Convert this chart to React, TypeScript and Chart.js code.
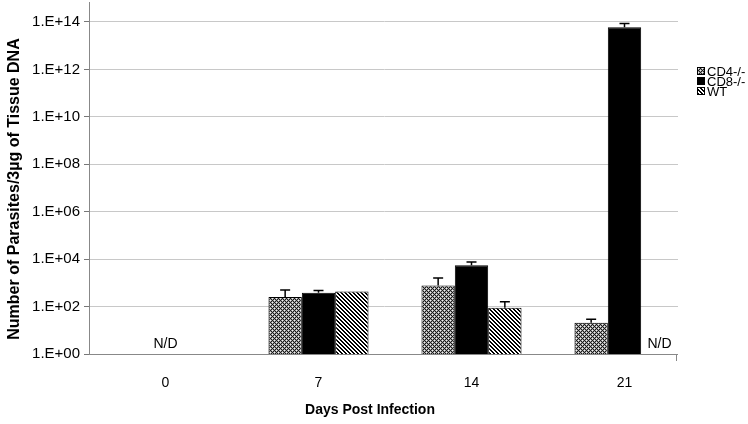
import React, { useEffect, useRef } from "react";
import { Chart, registerables } from "chart.js";

Chart.register(...registerables);

const categories = ["0", "7", "14", "21"];
const seriesNames = ["CD4-/-", "CD8-/-", "WT"];
const cd4Values = [null, 250, 770, 21];
const cd8Values = [null, 380, 5500, 6e13];
const wtValues = [null, 430, 90, null];
const cd4Upper = [null, 500, 1600, 29];
const cd8Upper = [null, 475, 7500, 8.5e13];
const wtUpper = [null, null, 158, null];
const yTickExponents = [0, 2, 4, 6, 8, 10, 12, 14];
const ndLabels = [
  { category: 0, shift: 0, text: "N/D" },
  { category: 3, shift: 35, text: "N/D" },
];

function makePattern(kind: string): CanvasPattern | string {
  const c = document.createElement("canvas");
  c.width = 4;
  c.height = 4;
  const g = c.getContext("2d");
  if (!g) return "#888";
  if (kind === "cross") {
    g.fillStyle = "#a0a0a0";
    g.fillRect(0, 0, 4, 4);
    g.fillStyle = "#1a1a1a";
    for (let x = 0; x < 4; x++)
      for (let y = 0; y < 4; y++) {
        if ((x + y) % 4 === 0 || (x - y + 4) % 4 === 0) g.fillRect(x, y, 1, 1);
      }
    g.fillStyle = "#f0f0f0";
    g.fillRect(2, 0, 1, 1);
    g.fillRect(0, 2, 1, 1);
  } else {
    g.fillStyle = "#fff";
    g.fillRect(0, 0, 4, 4);
    g.fillStyle = "#000";
    for (let x = 0; x < 4; x++)
      for (let y = 0; y < 4; y++) {
        if ((x - y + 8) % 4 < 2) g.fillRect(x, y, 1, 1);
      }
  }
  return g.createPattern(c, "repeat") || "#888";
}

const PLOT_END = 678;

export default function App() {
  const ref = useRef<HTMLCanvasElement | null>(null);
  useEffect(() => {
    if (!ref.current) return;
    const fills = [makePattern("cross"), "#000", makePattern("stripe")];
    const uppers = [cd4Upper, cd8Upper, wtUpper];
    const font = "'Liberation Sans', Arial, sans-serif";

    const extras = {
      id: "extras",
      beforeDraw(chart: any) {
        const ctx = chart.ctx;
        ctx.save();
        ctx.beginPath();
        ctx.rect(0, 0, PLOT_END, chart.height);
        ctx.clip();
      },
      afterDatasetsDraw(chart: any) {
        const ctx = chart.ctx;
        const y = chart.scales.y;
        const x = chart.scales.x;
        ctx.save();
        ctx.strokeStyle = "#000";
        ctx.lineWidth = 1.5;
        chart.data.datasets.forEach((ds: any, di: number) => {
          const meta = chart.getDatasetMeta(di);
          meta.data.forEach((el: any, i: number) => {
            const up = uppers[di][i];
            const v = ds.data[i];
            if (up == null || v == null) return;
            const yTop = y.getPixelForValue(v);
            const yUp = y.getPixelForValue(up);
            ctx.beginPath();
            ctx.moveTo(el.x, yTop);
            ctx.lineTo(el.x, yUp);
            ctx.moveTo(el.x - 5, yUp);
            ctx.lineTo(el.x + 5, yUp);
            ctx.stroke();
          });
        });
        ctx.fillStyle = "#000";
        ctx.font = "14px " + font;
        ctx.textAlign = "center";
        ctx.textBaseline = "middle";
        ndLabels.forEach((n) => {
          const cx = x.getPixelForValue(n.category) + n.shift;
          ctx.fillText(n.text, cx, y.bottom - 10);
        });
        ctx.strokeStyle = "#888";
        ctx.lineWidth = 1;
        ctx.beginPath();
        ctx.moveTo(PLOT_END - 1.5, y.bottom);
        ctx.lineTo(PLOT_END - 1.5, y.bottom + 7);
        ctx.stroke();
        ctx.restore();
      },
      afterDraw(chart: any) {
        const ctx = chart.ctx;
        ctx.restore();
        ctx.save();
        ctx.fillStyle = "#000";
        ctx.textBaseline = "middle";
        ctx.textAlign = "center";
        ctx.font = "bold 14px " + font;
        ctx.fillText("Days Post Infection", 370, 410);
        ctx.save();
        ctx.translate(15, 189);
        ctx.rotate(-Math.PI / 2);
        ctx.font = "bold 16px " + font;
        ctx.fillText("Number of Parasites/3\u00b5g of Tissue DNA", 0, 0);
        ctx.restore();
        ctx.font = "13px " + font;
        ctx.textAlign = "left";
        seriesNames.forEach((name, i) => {
          const ly = 71 + i * 10;
          ctx.fillStyle = fills[i] as any;
          ctx.fillRect(697, ly - 4, 8, 8);
          ctx.strokeStyle = "#000";
          ctx.lineWidth = 1;
          ctx.strokeRect(697.5, ly - 3.5, 7, 7);
          ctx.fillStyle = "#000";
          ctx.fillText(name, 707, ly + 1);
        });
        ctx.restore();
      },
    };

    const chart = new Chart(ref.current, {
      type: "bar",
      data: {
        labels: categories,
        datasets: [
          { label: seriesNames[0], data: cd4Values, backgroundColor: fills[0], borderColor: "#000", borderWidth: 1 },
          { label: seriesNames[1], data: cd8Values, backgroundColor: fills[1], borderColor: "#000", borderWidth: 1 },
          { label: seriesNames[2], data: wtValues, backgroundColor: fills[2], borderColor: "#000", borderWidth: 1 },
        ],
      } as any,
      options: {
        animation: false,
        responsive: false,
        layout: { padding: { top: 2, right: 47, left: 0, bottom: 0 } },
        datasets: { bar: { categoryPercentage: 0.654, barPercentage: 1 } },
        plugins: { legend: { display: false }, tooltip: { enabled: false } },
        scales: {
          x: {
            grid: { display: false },
            border: { display: true, color: "#888", width: 1 },
            ticks: { color: "#000", font: { family: font, size: 14 }, padding: 13 },
            afterFit: (s: any) => {
              s.height = 70;
              s.paddingLeft = 0;
              s.paddingRight = 0;
            },
          },
          y: {
            type: "logarithmic",
            min: 1,
            max: Math.pow(10, 14.84),
            grid: { color: "#c8c8c8", tickColor: "#777", tickLength: 5, drawTicks: true },
            border: { display: true, color: "#888", width: 1 },
            afterBuildTicks: (s: any) => {
              s.ticks = yTickExponents.map((e) => ({ value: Math.pow(10, e) }));
            },
            ticks: {
              color: "#000",
              font: { family: font, size: 15 },
              padding: 4,
              autoSkip: false,
              callback: (v: any) => {
                const e = Math.round(Math.log10(Number(v)));
                return "1.E+" + (e < 10 ? "0" + e : "" + e);
              },
            },
            afterFit: (s: any) => {
              s.width = 89;
              s.paddingTop = 0;
              s.paddingBottom = 0;
            },
          },
        },
      } as any,
      plugins: [extras],
    });
    return () => chart.destroy();
  }, []);
  return (
    <div style={{ position: "fixed", left: 0, top: 0, width: 748, height: 424, background: "#fff" }}>
      <canvas ref={ref} width={748} height={424} />
    </div>
  );
}
